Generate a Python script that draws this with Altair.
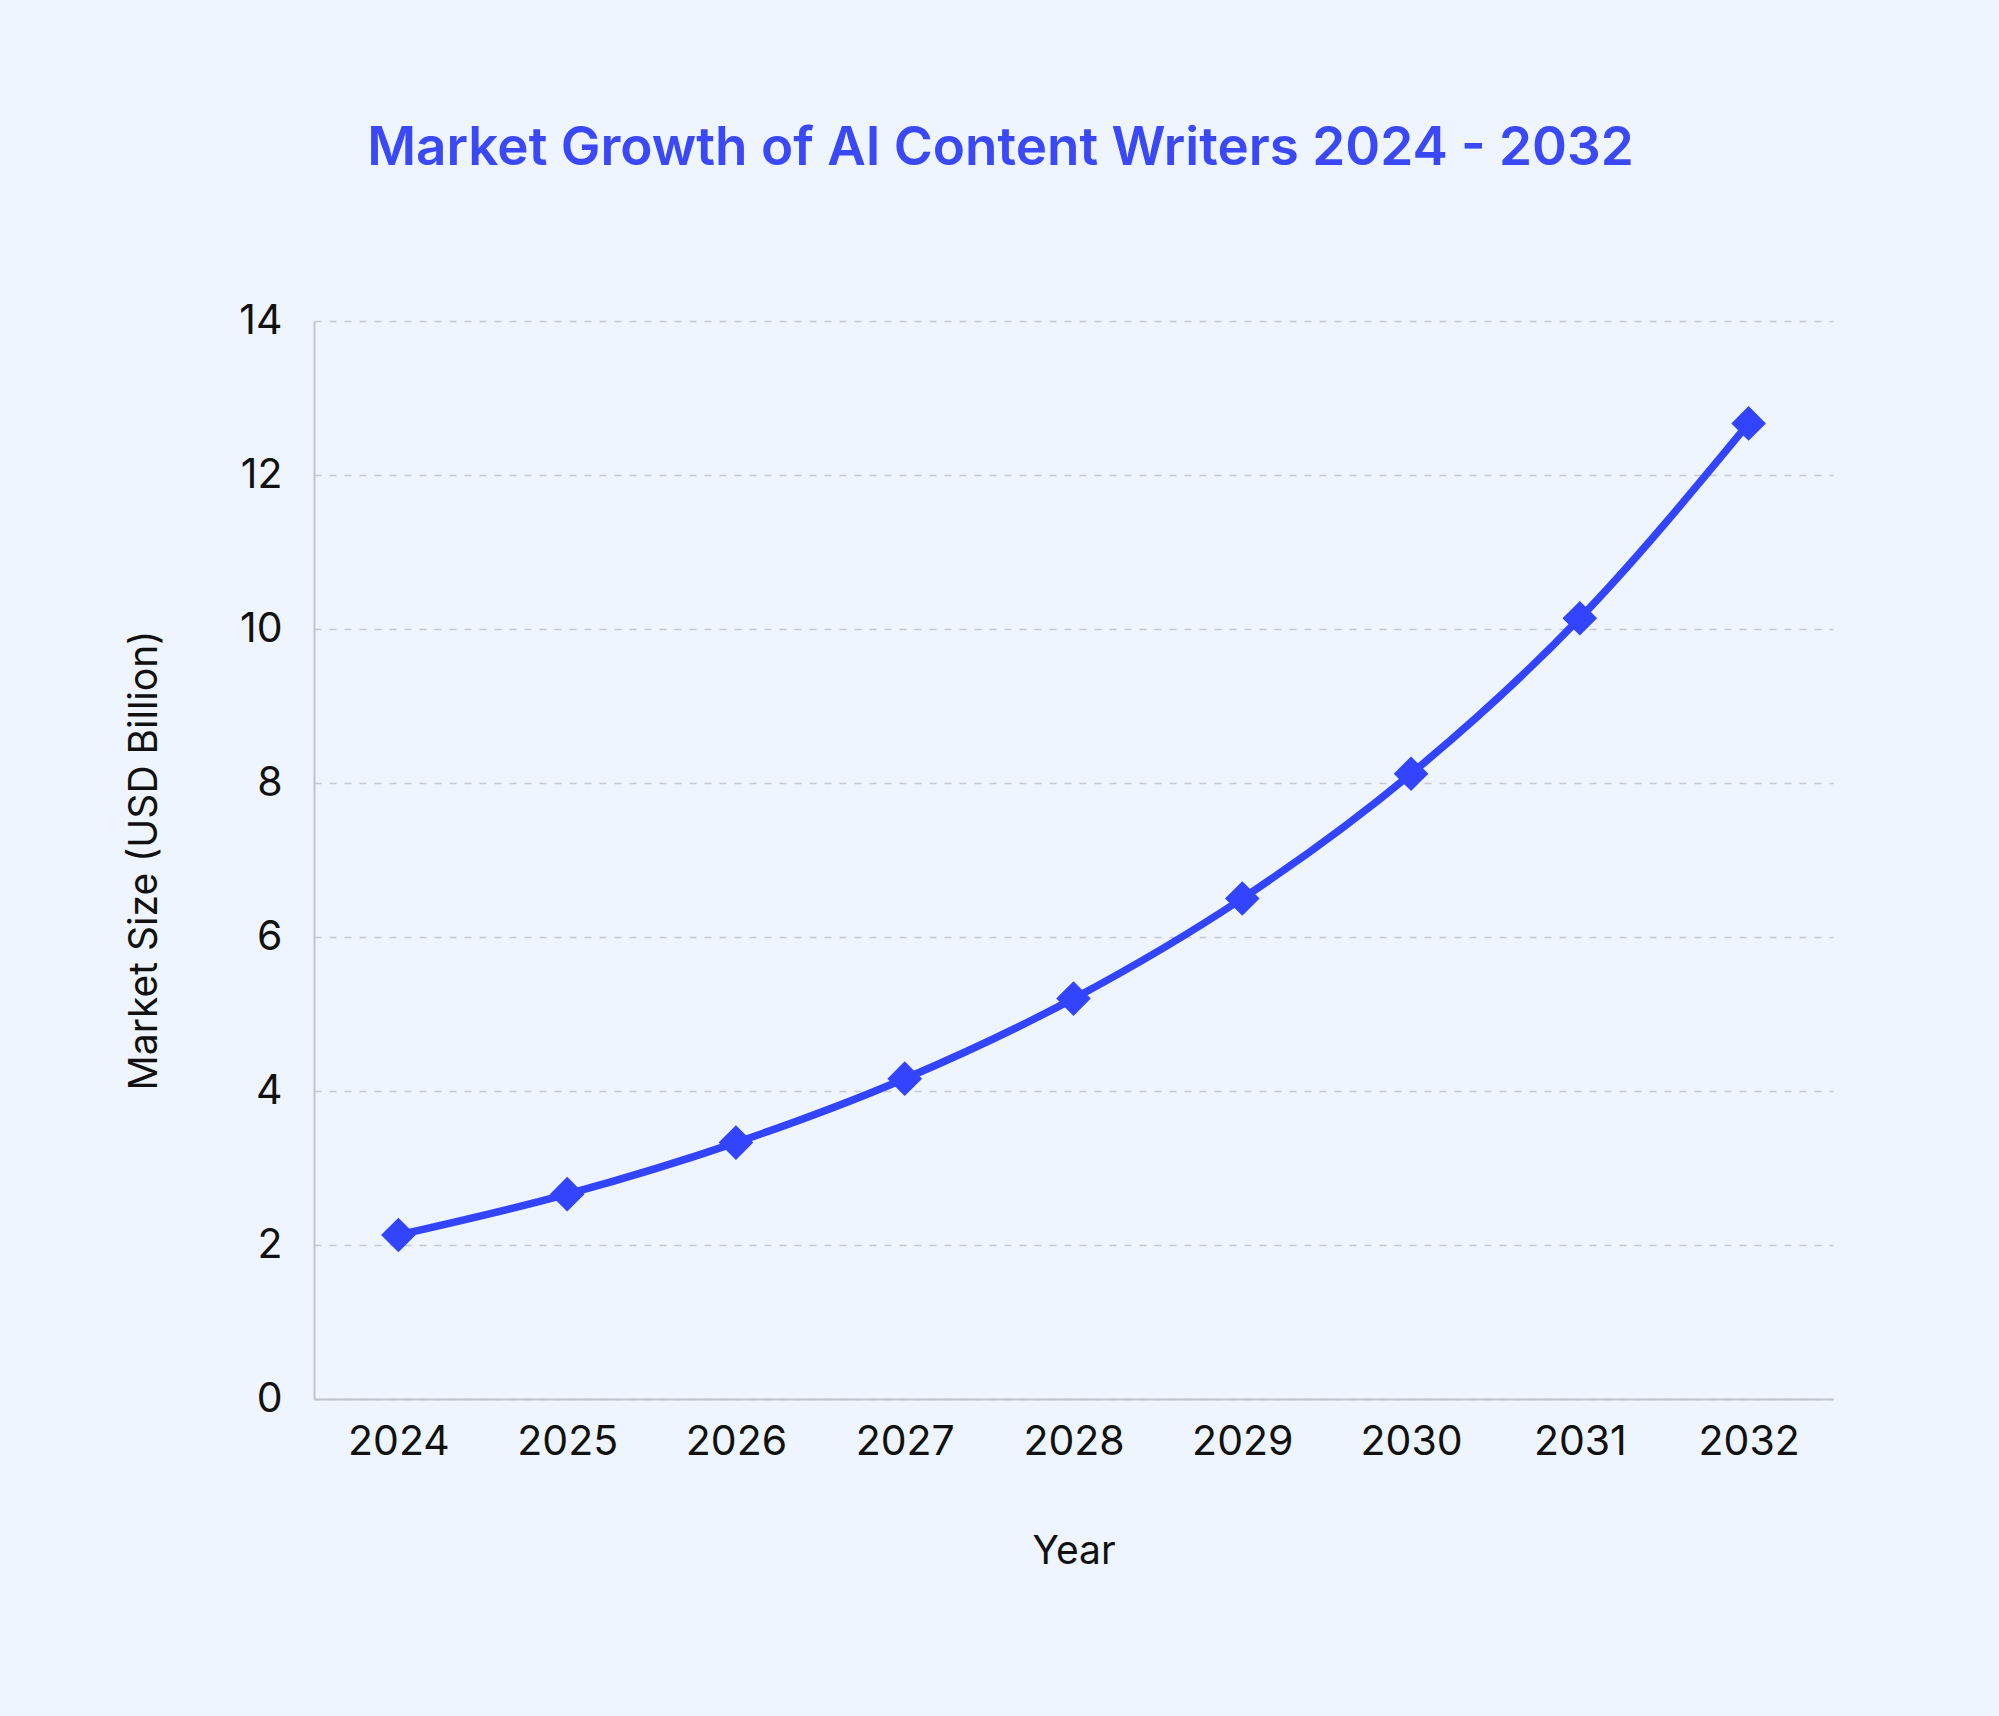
import altair as alt
import pandas as pd

years = ["2024", "2025", "2026", "2027", "2028", "2029", "2030", "2031", "2032"]
market_size = [2.13, 2.66, 3.33, 4.16, 5.20, 6.50, 8.12, 10.14, 12.67]
y_ticks = [0, 2, 4, 6, 8, 10, 12, 14]

df = pd.DataFrame({"Year": years, "Market Size": market_size})

BLUE = "#3344FF"
BG = "#EEF5FE"

chart = (
    alt.Chart(df, title=alt.Title(
        "Market Growth of AI Content Writers 2024 - 2032",
        fontSize=53, font="Inter", fontWeight=600, color="#3a48f7",
        anchor="middle", dx=-73, offset=124,
    ))
    .mark_line(
        color=BLUE, strokeWidth=7.5, interpolate="monotone",
        point=alt.OverlayMarkDef(shape="diamond", size=1200, color=BLUE, filled=True, opacity=1),
    )
    .encode(
        x=alt.X("Year:O", sort=years,
                scale=alt.Scale(type="point", padding=0.5),
                axis=alt.Axis(title="Year", labelAngle=0, ticks=False, grid=False,
                              labelPadding=23, titlePadding=70,
                              domainColor="#bfc3cc", domainWidth=2)),
        y=alt.Y("Market Size:Q",
                scale=alt.Scale(domain=[0, 14], nice=False),
                axis=alt.Axis(title="Market Size (USD Billion)", values=y_ticks,
                              ticks=False, labelPadding=32, titlePadding=74,
                              grid=True, gridDash=[7, 8], gridColor="#c6cad3", gridWidth=1.5,
                              domainColor="#bfc3cc", domainWidth=2)),
    )
    .properties(width=1519, height=1078)
    .configure(background=BG, padding={"left": 314, "top": 321, "right": 166, "bottom": 317},
               autosize=alt.AutoSizeParams(type="none"))
    .configure_view(stroke=None)
    .configure_axis(labelFont="Inter", titleFont="Inter", labelFontSize=41, titleFontSize=39,
                    labelColor="#111111", titleColor="#111111", titleFontWeight="normal")
)

chart.save("out.html", embed_options={"renderer": "svg", "actions": False})
